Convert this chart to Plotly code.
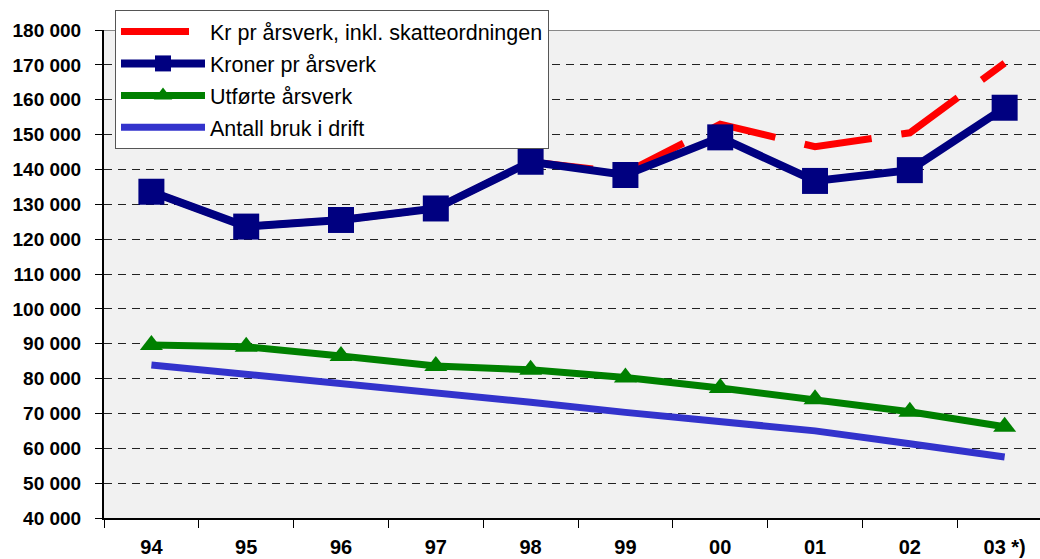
import plotly.graph_objects as go

years = ["94", "95", "96", "97", "98", "99", "00", "01", "02", "03 *)"]
kr_inkl_skatt = [133600, 123600, 125500, 128800, 142200, 139000, 153000, 146500, 150500, 170500]
kroner_pr_arsverk = [133600, 123600, 125500, 128800, 142200, 138400, 149200, 136700, 139800, 157700]
utforte_arsverk = [89600, 89100, 86500, 83600, 82500, 80300, 77300, 74100, 70500, 66200]
antall_bruk = [83900, 81300, 78300, 75900, 73200, 70300, 67900, 65000, 61300, 57500]

FONT = "Arial, Liberation Sans, sans-serif"

fig = go.Figure()
fig.add_trace(go.Scatter(
    x=years, y=kr_inkl_skatt, mode="lines", name="Kr pr årsverk, inkl. skatteordningen",
    line=dict(color="#FF0000", width=7, dash="68px,30px"), legendgroup="a"))
fig.add_trace(go.Scatter(
    x=years, y=kroner_pr_arsverk, mode="lines+markers", name="Kroner pr årsverk",
    line=dict(color="#000080", width=8), marker=dict(symbol="square", size=26, color="#000080"),
    legendgroup="b"))
fig.add_trace(go.Scatter(
    x=years, y=utforte_arsverk, mode="lines+markers", name="Utførte årsverk",
    line=dict(color="#008000", width=7), marker=dict(symbol="triangle-up", size=20, color="#008000"),
    legendgroup="c"))
fig.add_trace(go.Scatter(
    x=years, y=antall_bruk, mode="lines", name="Antall bruk i drift",
    line=dict(color="#3333CC", width=7), legendgroup="d"))

fig.update_layout(
    width=1040, height=559,
    margin=dict(l=104, r=0, t=30, b=41, autoexpand=False),
    paper_bgcolor="white", plot_bgcolor="#F1F1F1",
    separators=". ",
    font=dict(family=FONT, color="black"),
    legend=dict(
        x=115 / 1040, y=1 - 10 / 559, xref="container", yref="container",
        xanchor="left", yanchor="top",
        bgcolor="white", bordercolor="#555555", borderwidth=1,
        font=dict(size=21.5, family=FONT, color="black"),
        traceorder="grouped", tracegroupgap=1, itemwidth=84,
    ),
    xaxis=dict(
        type="category", range=[-0.5, 9.373], tickson="boundaries",
        ticks="outside", ticklen=8, tickcolor="black", tickwidth=1,
        showline=True, linecolor="black", linewidth=2, showgrid=False,
        tickfont=dict(size=20, family=FONT, color="black", weight="bold"),
        ticklabelstandoff=10, zeroline=False,
    ),
    yaxis=dict(
        range=[40000, 180000], dtick=10000, tick0=40000, tickformat=",d",
        ticks="outside", ticklen=7, tickcolor="black", tickwidth=1,
        showline=True, linecolor="black", linewidth=2,
        showgrid=True, gridcolor="#222222", gridwidth=1, griddash="8px,6px",
        tickfont=dict(size=19, family=FONT, color="black", weight="bold"),
        ticklabelstandoff=10, zeroline=False,
    ),
    shapes=[dict(type="line", xref="paper", yref="y", x0=0, x1=1, y0=180000, y1=180000,
                 line=dict(color="#888888", width=2), layer="below")],
)

fig.write_html(
    "out.html",
    config={"displayModeBar": False},
    post_script="document.body.style.margin='0';document.body.style.overflow='hidden';",
)
